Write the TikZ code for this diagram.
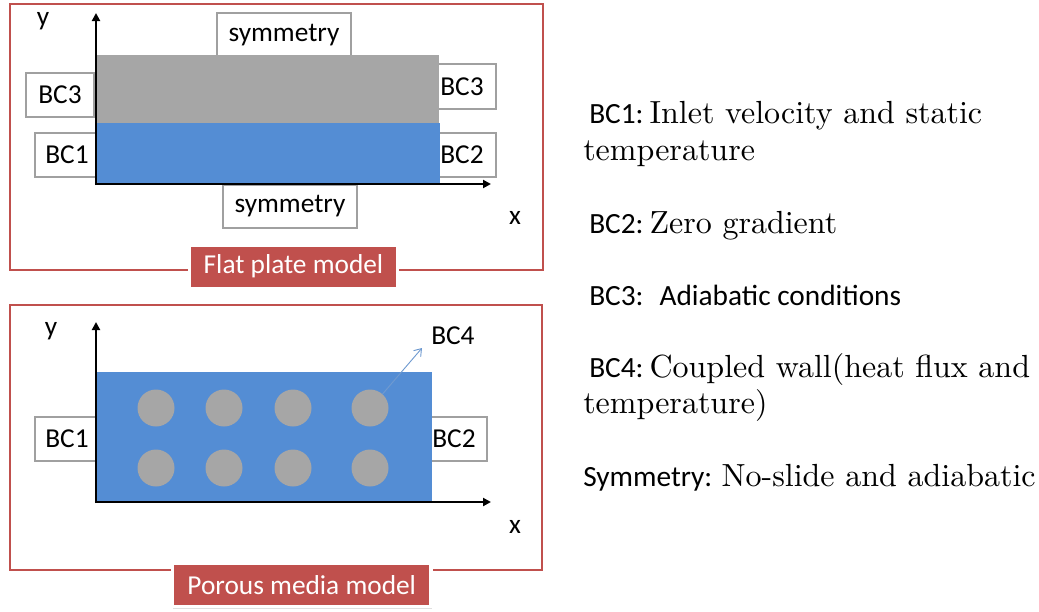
\documentclass[tikz,border=0pt]{standalone}
\usepackage{fontspec}
\setmainfont{Carlito}
\newfontfamily\calfont{Carlito}
\newfontfamily\cmfont{lmroman10-regular.otf}
\usetikzlibrary{arrows.meta,shadows}
\definecolor{framered}{HTML}{C0504D}
\definecolor{fillblue}{HTML}{548DD4}
\definecolor{fillgray}{HTML}{A6A6A6}
\definecolor{boxgray}{HTML}{A0A0A0}
\definecolor{linkblue}{HTML}{6F9AD0}
\newcommand\serifsz{\cmfont\fontsize{24}{28}\selectfont}
\begin{document}
\begin{tikzpicture}[x=0.75pt,y=-0.75pt,
 panel/.style={draw=framered,line width=1.6pt},
 bcbox/.style={draw=boxgray,line width=0.8pt,fill=white,inner sep=0pt,minimum height=33pt,font=\calfont\fontsize{20.5}{24}\selectfont},
 lbl/.style={font=\calfont\fontsize{20.5}{24}\selectfont,inner sep=0pt},
 title/.style={fill=framered,draw=white,line width=2.5pt,text=white,inner sep=0pt,minimum height=32.5pt,font=\calfont\fontsize{20.5}{24}\selectfont,drop shadow={shadow xshift=0.8pt,shadow yshift=-1.5pt,opacity=0.25}},
 axis/.style={line width=2.2pt,-{Triangle[length=6pt,width=6pt]}},
 hole/.style={circle,fill=fillgray,inner sep=0pt,minimum size=27.75pt},
 desc/.style={anchor=base west,inner sep=0pt,font=\calfont\fontsize{22}{26}\selectfont},
]
\useasboundingbox (0,0) rectangle (1039,611);

% ---------- top panel: flat plate ----------
\draw[panel] (10,4) rectangle (543,270);
\node[title,minimum width=156pt] (flat) at (293.5,266.5) {Flat plate model};

\node[bcbox,minimum width=100.5pt] (symtop) at (284,35) {symmetry};
\node[bcbox,minimum width=51pt] (bc3l) at (60,95) {BC3};
\node[bcbox,minimum width=48pt] (bc1t) at (67,155) {BC1};
\node[bcbox,minimum width=51pt,minimum height=33.75pt] (bc3r) at (462,86.5) {BC3};
\node[bcbox,minimum width=51pt] (bc2t) at (462,155) {BC2};
\node[bcbox,minimum width=100.5pt,minimum height=32.25pt] (symbot) at (290,206.5) {symmetry};

\fill[fillgray] (97,55) rectangle (439,123);
\fill[fillblue] (97,123) rectangle (440,183);

\coordinate (o1) at (96,184);
\coordinate (ytip1) at (96,13);
\coordinate (xtip1) at (491,184);
\draw[axis] ([yshift=-0.8pt]o1) -- (ytip1);
\draw[axis] ([xshift=-0.8pt]o1) -- (xtip1);
\node[lbl,anchor=base] (ylab1) at (43,25) {y};
\node[lbl,anchor=base] (xlab1) at (515,224) {x};

% ---------- bottom panel: porous media ----------
\draw[panel] (10,305) rectangle (542,570);
\node[title,minimum width=194pt] (porous) at (301.75,585) {Porous media model};

\node[bcbox,minimum width=48pt] (bc1b) at (67,439) {BC1};
\node[bcbox,minimum width=49.5pt] (bc2b) at (454,439) {BC2};

\fill[fillblue] (97,372) rectangle (432,501);
\foreach \i/\x in {1/156,2/224,3/293,4/370}{
  \node[hole] (ha\i) at (\x,408) {};
  \node[hole] (hb\i) at (\x,468) {};
}

\coordinate (o2) at (96,502);
\coordinate (ytip2) at (96,322);
\coordinate (xtip2) at (491,502);
\draw[axis] ([yshift=-0.8pt]o2) -- (ytip2);
\draw[axis] ([xshift=-0.8pt]o2) -- (xtip2);
\node[lbl,anchor=base] (ylab2) at (51,335) {y};
\node[lbl,anchor=base] (xlab2) at (515,533) {x};

\node[lbl,anchor=base west] (bc4) at (431,344) {BC4};
\coordinate (bc4tip) at (422,348);
\draw[linkblue,line width=0.7pt,-{Straight Barb[length=5pt,width=7pt]}] (ha4.48) -- (bc4tip);

% ---------- descriptions ----------
\node[desc] (d1) at (583,123) {\hspace*{4.5pt}BC1:\hspace{4.5pt}{\serifsz Inlet velocity and static}};
\node[desc] (d1b) at (583,160) {\serifsz temperature};
\node[desc] (d2) at (583,233) {\hspace*{4.5pt}BC2:\hspace{4.5pt}{\serifsz Zero gradient}};
\node[desc] (d3) at (583,305) {\hspace*{4.5pt}BC3:\hspace{12pt}Adiabatic conditions};
\node[desc] (d4) at (583,377) {\hspace*{4.5pt}BC4:\hspace{4.5pt}{\serifsz Coupled wall(heat flux and}};
\node[desc] (d4b) at (583,413) {\serifsz temperature)};
\node[desc] (d5) at (583,486) {Symmetry:\hspace{7pt}{\serifsz No-slide and adiabatic}};
\end{tikzpicture}
\end{document}
